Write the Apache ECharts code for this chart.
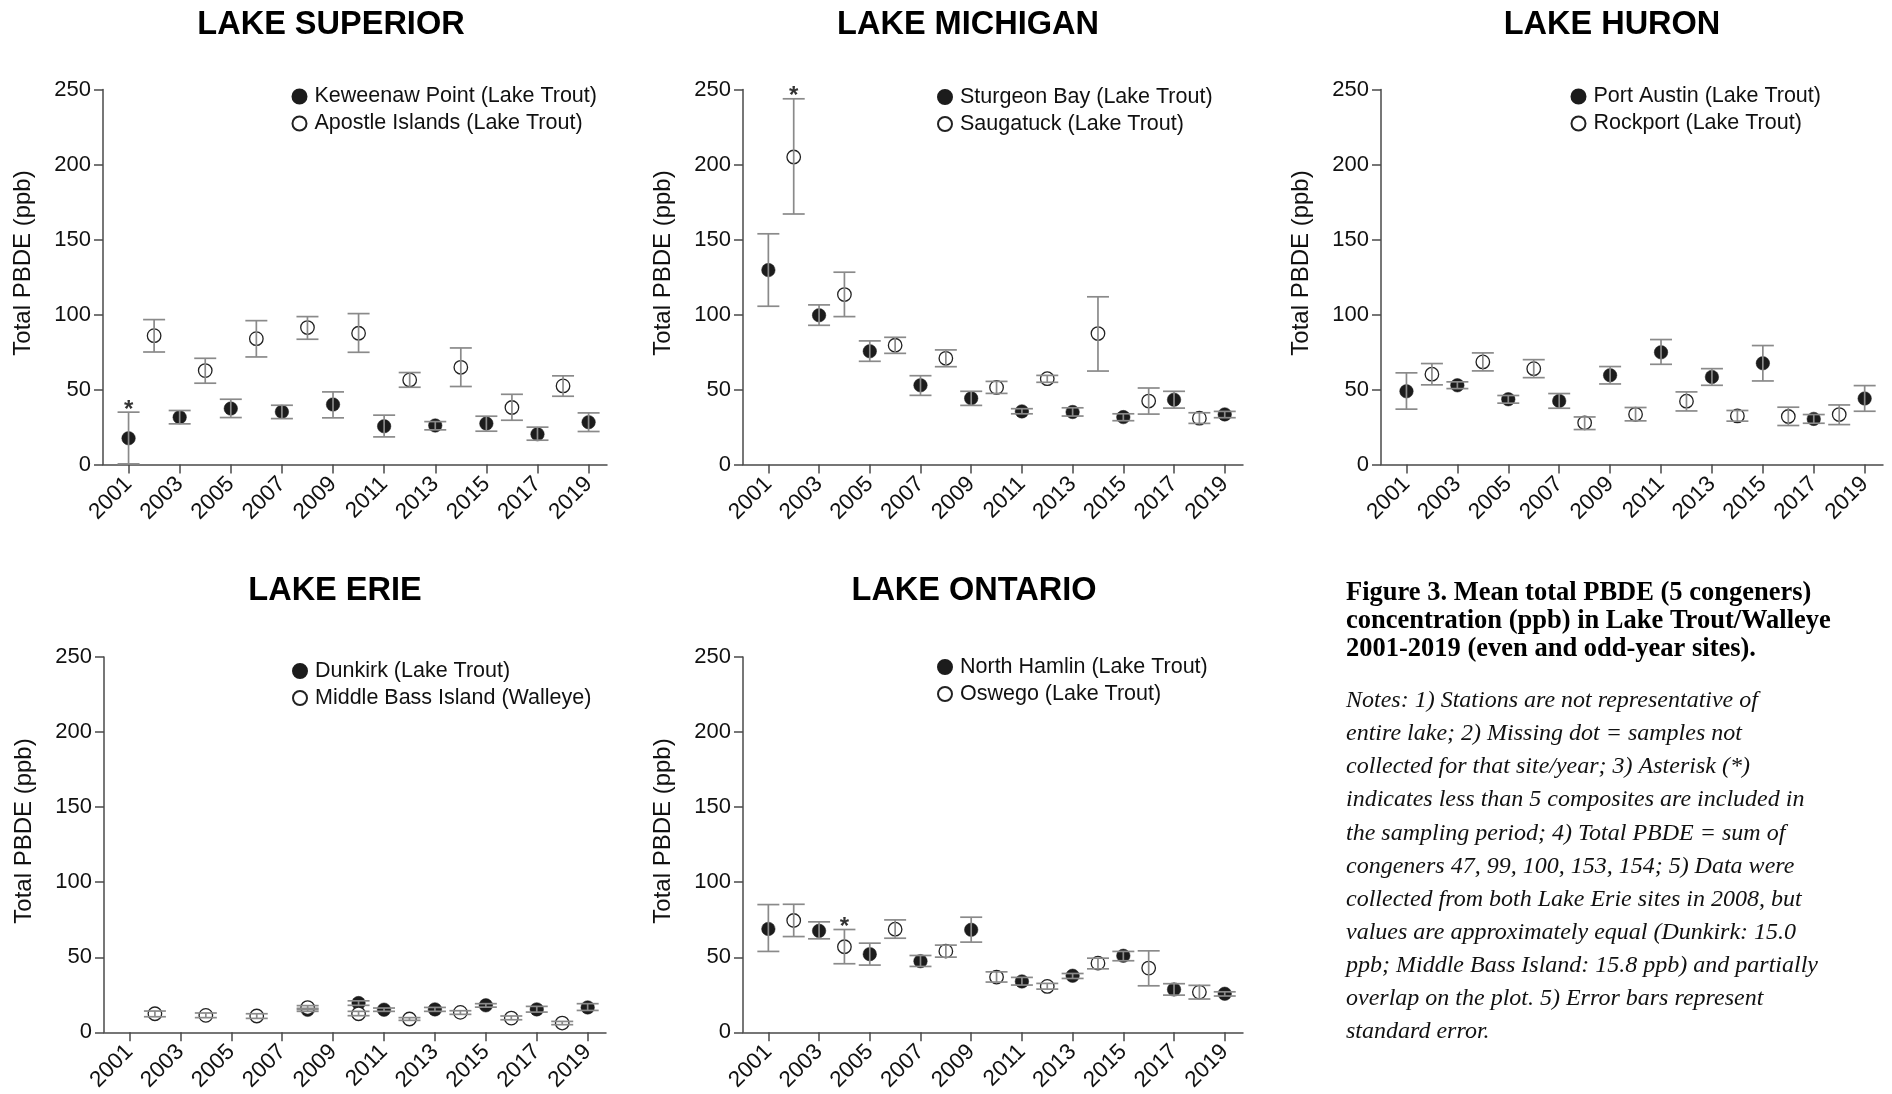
<!DOCTYPE html>
<html>
<head>
<meta charset="utf-8">
<script src="https://cdn.jsdelivr.net/npm/echarts@6/dist/echarts.min.js"></script>
<style>
html,body{margin:0;padding:0;background:#fff;}
#chart{width:1892px;height:1094px;}
</style>
</head>
<body>
<div id="chart"></div>
<script>
// ---------- DATA ----------
const tickYears = [2001, 2003, 2005, 2007, 2009, 2011, 2013, 2015, 2017, 2019];
const yTicks = [0, 50, 100, 150, 200, 250];

// [year, mean, lower, upper]
const keweenawPoint = [[2001,17.5,0.4,34.9],[2003,31.5,27.1,36],[2005,37.3,31.3,43.5],[2007,35.1,30.6,39.5],[2009,40,31.1,48.4],[2011,25.5,18.4,32.9],[2013,26,23.1,28.6],[2015,27.3,22.2,32.2],[2017,20.2,16.2,24.9],[2019,28.2,22,34.4]];
const apostleIslands = [[2002,85.9,75,96.6],[2004,62.6,54.2,70.8],[2006,83.9,71.7,95.9],[2008,91.3,83.5,98.6],[2010,87.5,74.8,100.6],[2012,56.4,51.5,61.3],[2014,64.8,52,77.7],[2016,38,29.5,46.8],[2018,52.4,45.5,59.1]];
const superiorAsterisks = [[2001,34.9]];

const sturgeonBay = [[2001,129.6,105.5,153.8],[2003,99.5,92.8,106.4],[2005,75.5,68.8,82.4],[2007,52.8,46.1,59.2],[2009,44.1,39.4,48.8],[2011,35.4,33.8,37.2],[2013,35,32.3,37.8],[2015,31.6,29.2,33.8],[2017,43.2,37.6,48.8],[2019,33.4,31.2,35.4]];
const saugatuck = [[2002,205,167,243.8],[2004,113.3,98.6,128.2],[2006,79.5,74.1,84.8],[2008,70.8,65.2,76.4],[2010,51.4,47.4,55.4],[2012,57.2,54.8,59.4],[2014,87.3,62.3,111.8],[2016,42.3,33.6,51],[2018,30.9,27.4,34.5]];
const michiganAsterisks = [[2002,243.8]];

const portAustin = [[2001,48.8,36.9,61.1],[2003,52.8,50.6,55.1],[2005,43.5,40.9,46],[2007,42.4,37.5,47.3],[2009,59.5,53.7,65.3],[2011,74.8,66.8,83.3],[2013,58.4,52.8,63.9],[2015,67.5,55.7,79.3],[2017,30.4,27.5,33.3],[2019,44,35.5,52.6]];
const rockport = [[2002,60.2,53.1,67.3],[2004,68.4,62.4,74.4],[2006,63.9,57.9,69.9],[2008,27.8,23.3,31.7],[2010,33.5,29.1,38],[2012,42.2,35.7,48.4],[2014,32.4,28.9,36],[2016,32,26,38.2],[2018,33.3,26.6,39.7]];
const huronAsterisks = [];

const dunkirk = [[2008,15.0,14.0,16.0],[2010,19.5,18,21],[2011,15.1,14,16.2],[2013,15.3,14,16.6],[2015,18,16.8,19.1],[2017,15.3,13.5,17.3],[2019,16.6,14.6,19.1]];
const middleBassIsland = [[2002,12.4,10.4,14.2],[2004,11.3,9.8,12.9],[2006,10.9,9.3,12.4],[2008,16.5,15.2,17.8],[2010,12.4,11.1,14],[2012,8.9,8,9.8],[2014,13.3,12,14.4],[2016,9.5,8.4,10.9],[2018,6.2,5.1,7.3]];
const erieAsterisks = [];

const northHamlin = [[2001,68.9,53.9,85.1],[2003,67.6,62.3,73.6],[2005,52.1,44.8,59.4],[2007,47.4,43.9,51.2],[2009,68.3,60.1,76.7],[2011,33.9,31.5,36.6],[2013,37.7,35.9,39.2],[2015,51,47.7,53.9],[2017,28.6,24.8,32.4],[2019,25.7,24.2,27]];
const oswego = [[2002,74.5,63.8,85.3],[2004,57,45.7,68.5],[2006,68.7,62.7,74.9],[2008,54.1,50.1,58.1],[2010,36.8,33.5,40.3],[2012,30.6,28.8,32.6],[2014,46.1,42.3,49.4],[2016,42.8,31,54.3],[2018,26.8,22.2,31.3]];
const ontarioAsterisks = [[2004,68.5]];

const panelTitles = ['LAKE SUPERIOR','LAKE MICHIGAN','LAKE HURON','LAKE ERIE','LAKE ONTARIO'];
const filledNames = ['Keweenaw Point (Lake Trout)','Sturgeon Bay (Lake Trout)','Port Austin (Lake Trout)','Dunkirk (Lake Trout)','North Hamlin (Lake Trout)'];
const openNames = ['Apostle Islands (Lake Trout)','Saugatuck (Lake Trout)','Rockport (Lake Trout)','Middle Bass Island (Walleye)','Oswego (Lake Trout)'];
const yAxisTitle = 'Total PBDE (ppb)';
const captionBold = ['Figure 3. Mean total PBDE (5 congeners)','concentration (ppb) in Lake Trout/Walleye','2001-2019 (even and odd-year sites).'];
const captionNotes = ['Notes: 1) Stations are not representative of','entire lake; 2) Missing dot = samples not','collected for that site/year; 3) Asterisk (*)','indicates less than 5 composites are included in','the sampling period; 4) Total PBDE = sum of','congeners 47, 99, 100, 153, 154; 5) Data were','collected from both Lake Erie sites in 2008, but','values are approximately equal (Dunkirk: 15.0','ppb; Middle Bass Island: 15.8 ppb) and partially','overlap on the plot. 5) Error bars represent','standard error.'];

const filledData = [keweenawPoint, sturgeonBay, portAustin, dunkirk, northHamlin];
const openData = [apostleIslands, saugatuck, rockport, middleBassIsland, oswego];
const asteriskData = [superiorAsterisks, michiganAsterisks, huronAsterisks, erieAsterisks, ontarioAsterisks];

// ---------- LAYOUT ----------
const grids = [
  {left:103, top:89.5, width:504, height:375},
  {left:743, top:89.5, width:500, height:375},
  {left:1381, top:89.5, width:502, height:375},
  {left:104, top:657, width:502, height:376},
  {left:743, top:657, width:500, height:376}
];
const titlePos = [[331,25],[968,25],[1612,25],[335,591.5],[974,591.5]];
const legendPos = [[298.5,96.5],[944,97],[1577.5,96.5],[299,671],[944,667]];

const FONT = '"Liberation Sans", Arial, sans-serif';
const axisColor = '#4a4a4a';
const errColor = '#8a8a8a';

const option = {
  animation:false,
  backgroundColor:'#fff',
  grid: grids.map(g => Object.assign({containLabel:false}, g)),
  xAxis: grids.map((g,i) => ({
    type:'value', gridIndex:i, min:2000, max:2019.72,
    axisLine:{show:true, onZero:false, lineStyle:{color:axisColor, width:1.5}},
    axisTick:{show:true, customValues:tickYears, length:9, lineStyle:{color:axisColor, width:1.5}},
    axisLabel:{customValues:tickYears, rotate:45, margin:16, fontSize:22.5, fontFamily:FONT, color:'#111',
      formatter: v => String(Math.round(v))},
    splitLine:{show:false}
  })),
  yAxis: grids.map((g,i) => ({
    type:'value', gridIndex:i, min:yTicks[0], max:yTicks[yTicks.length-1], interval:50,
    axisLine:{show:true, lineStyle:{color:axisColor, width:1.5}},
    axisTick:{show:true, length:9, lineStyle:{color:axisColor, width:1.5}},
    axisLabel:{margin:12, fontSize:22, fontFamily:FONT, color:'#111'},
    splitLine:{show:false}
  })),
  legend: legendPos.map((p,i) => ({
    orient:'vertical', left:p[0]-7, top:p[1]-11, padding:0, itemGap:5,
    itemWidth:14, itemHeight:14, icon:'circle',
    data:[filledNames[i], openNames[i]],
    textStyle:{fontSize:21.5, fontFamily:FONT, color:'#111', padding:[0,0,0,3]}
  })),
  series: [],
  graphic: []
};

function errSeries(data, i) {
  return {
    type:'custom', xAxisIndex:i, yAxisIndex:i, z:5, silent:true,
    data: data.map(d => [d[0], d[2], d[3]]),
    encode:{x:0, y:[1,2]},
    renderItem: function(params, api) {
      const lo = api.coord([api.value(0), api.value(1)]);
      const hi = api.coord([api.value(0), api.value(2)]);
      const hw = 11;
      const st = {stroke:errColor, lineWidth:1.7};
      return {type:'group', children:[
        {type:'line', shape:{x1:lo[0], y1:lo[1], x2:hi[0], y2:hi[1]}, style:st},
        {type:'line', shape:{x1:lo[0]-hw, y1:lo[1], x2:lo[0]+hw, y2:lo[1]}, style:st},
        {type:'line', shape:{x1:hi[0]-hw, y1:hi[1], x2:hi[0]+hw, y2:hi[1]}, style:st}
      ]};
    }
  };
}

for (let i = 0; i < 5; i++) {
  option.series.push({
    name:filledNames[i], type:'scatter', xAxisIndex:i, yAxisIndex:i, z:2,
    symbol:'circle', symbolSize:13.5,
    itemStyle:{color:'#1c1c1c', borderColor:'#1c1c1c', borderWidth:0.5, opacity:1},
    data: filledData[i].map(d => [d[0], d[1]])
  });
  option.series.push({
    name:openNames[i], type:'scatter', xAxisIndex:i, yAxisIndex:i, z:3,
    symbol:'circle', symbolSize:13.5,
    itemStyle:{color:'#ffffff', borderColor:'#222', borderWidth:1.3, opacity:1},
    data: openData[i].map(d => [d[0], d[1]])
  });
  option.series.push(errSeries(filledData[i], i));
  option.series.push(errSeries(openData[i], i));
  if (asteriskData[i].length) {
    option.series.push({
      type:'scatter', xAxisIndex:i, yAxisIndex:i, z:6, silent:true,
      symbolSize:0, data: asteriskData[i],
      label:{show:true, formatter:'*', position:'top', distance:-10, fontSize:24, fontWeight:'bold', fontFamily:FONT, color:'#000'}
    });
  }
  option.graphic.push({
    type:'text', x:titlePos[i][0], y:titlePos[i][1],
    style:{text:panelTitles[i], font:'bold 32.5px ' + FONT, fill:'#000', textAlign:'center', textVerticalAlign:'middle'}
  });
  const g = grids[i];
  option.graphic.push({
    type:'text', x:g.left - 80, y:g.top + g.height/2 - 14, rotation:Math.PI/2,
    style:{text:yAxisTitle, font:'24px ' + FONT, fill:'#111', textAlign:'center', textVerticalAlign:'middle'}
  });
}

captionBold.forEach((t, k) => {
  option.graphic.push({type:'text', x:1346, y:593.5 + k*27.8,
    style:{text:t, font:'bold 26.5px "Liberation Serif", "Times New Roman", serif', fill:'#000', textVerticalAlign:'middle'}});
});
captionNotes.forEach((t, k) => {
  option.graphic.push({type:'text', x:1346, y:701 + k*33.05,
    style:{text:t, font:'italic 24px "Liberation Serif", "Times New Roman", serif', fill:'#111', textVerticalAlign:'middle'}});
});

const chart = echarts.init(document.getElementById('chart'), null, {renderer:'canvas'});
chart.setOption(option);
</script>
</body>
</html>
